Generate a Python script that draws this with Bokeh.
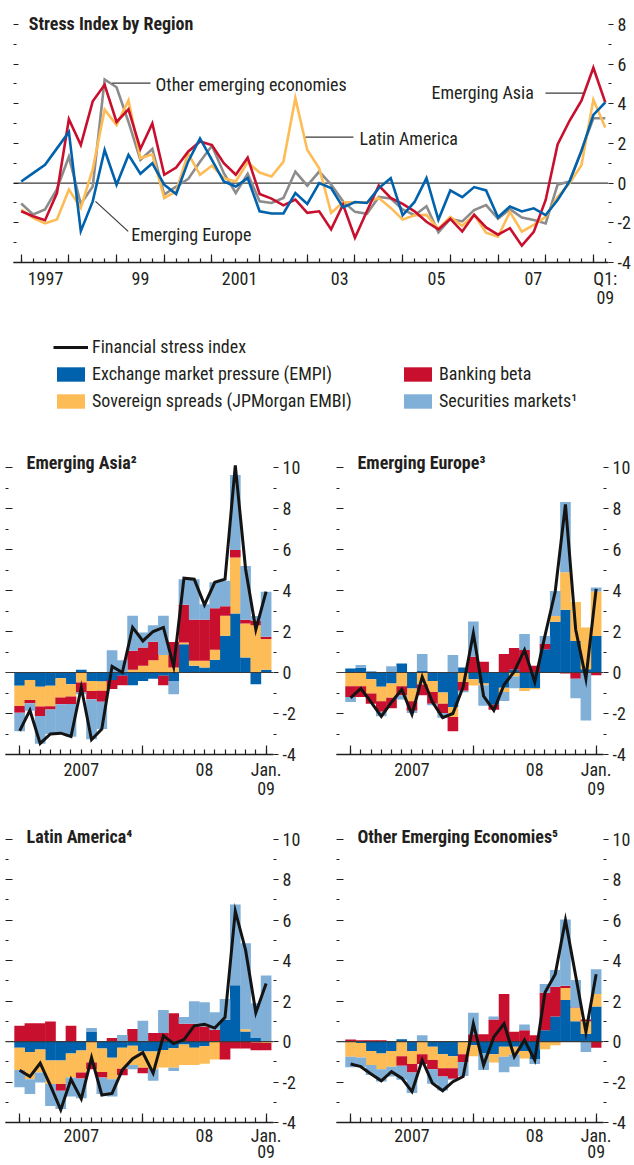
import numpy as np
from bokeh.plotting import figure
from bokeh.models import (Range1d, LinearAxis, FixedTicker, Span, Label, Legend,
                          LegendItem, ColumnDataSource)
from bokeh.layouts import column, row
from bokeh.embed import file_html
from bokeh.resources import INLINE

# ---------------- top chart: quarterly stress index by region ----------------
quarters = [1996.75 + 0.25 * i for i in range(50)]   # 1996Q4 ... 2009Q1

emerging_asia = [-1.42, -1.67, -1.87, -0.5, 3.22, 1.92, 4.12, 4.95, 3.08, 3.72,
                 1.72, 3.0, 0.42, 0.78, 1.58, 2.1, 1.92, 1.0, 0.42, 1.28,
                 -0.55, -0.78, -1.12, -0.83, -1.5, -1.42, -2.33, -1.08, -2.75, -1.42,
                 -0.12, -0.75, -1.05, -1.42, -1.95, -2.33, -1.8, -2.44, -1.6, -2.23,
                 -2.6, -2.27, -3.15, -2.46, -0.85, 1.95, 3.14, 4.15, 5.81, 4.07]
emerging_europe = [0.08, 0.5, 0.92, 1.75, 2.58, -2.42, -0.92, 1.67, -0.08, 1.42,
                   0.47, 1.0, -0.08, -0.55, 1.08, 2.25, 1.17, 0.08, -0.17, 0.25,
                   -1.42, -1.53, -1.53, -0.5, -1.05, 0.0, -0.25, -1.22, -0.95, -1.0,
                   -0.25, 0.25, -1.62, -0.95, 0.25, -1.85, -0.37, -0.71, -0.2, -0.37,
                   -1.72, -1.18, -1.43, -1.27, -1.61, -0.85, 0.08, 1.61, 3.44, 4.07]
latin_america = [-1.33, -1.75, -2.03, -1.83, -0.33, -1.25, 0.7, 3.7, 2.92, 4.17,
                 1.25, 1.45, -0.75, -0.42, 1.5, 0.42, 0.88, 0.25, 0.08, 1.05,
                 0.53, 0.33, 1.08, 4.28, 1.67, 0.75, -1.5, -0.97, -0.97, -0.97,
                 -0.75, -1.25, -1.83, -1.62, -1.6, -2.3, -1.7, -2.15, -1.6, -2.5,
                 -2.7, -1.45, -2.45, -2.1, -1.7, -0.7, 0.0, 0.9, 4.2, 2.8]
other_emerging = [-1.03, -1.58, -1.33, -0.3, 1.33, -1.05, -0.17, 5.22, 4.83, 3.08,
                  1.17, 1.72, -0.58, -0.17, 0.2, 1.08, 1.88, 0.5, -0.5, 0.47,
                  -0.92, -1.0, -0.75, 0.58, -0.13, 0.58, -0.08, -0.92, -1.45, -1.55,
                  -0.7, -0.78, -1.33, -1.62, -1.17, -2.48, -1.8, -1.93, -1.36, -1.11,
                  -1.79, -1.31, -1.74, -1.86, -2.03, -0.08, 0.08, 1.65, 3.27, 3.27]

top_year_marks = [1996.75 + k for k in range(13)]
top_tick_labels = {1997.26: "1997", 1999.25: "99", 2001.33: "2001",
                   2003.43: "03", 2005.46: "05", 2007.49: "07", 2009.0: "Q1:\n09"}
top_y_ticks = [-4, -2, 0, 2, 4, 6, 8]
top_y_minor = [-3, -1, 1, 3, 5, 7]

# ---------------- monthly panels ----------------
months = [2007 + m / 12 for m in range(25)]          # Jan 2007 ... Jan 2009
panel_year_marks = [2007.0, 2008.0, 2009.0]
panel_tick_labels = {2007.5: "2007", 2008.5: "08", 2009.0: "Jan.\n09"}
panel_y_ticks = [-4, -2, 0, 2, 4, 6, 8, 10]
panel_y_minor = [-3, -1, 1, 3, 5, 7, 9]

asia_fsi = [-2.85, -1.84, -3.46, -3.0, -2.96, -3.12, -0.73, -3.28, -2.76, 0.3, 0.0, 2.2,
            1.54, 2.0, 2.2, 0.3, 4.6, 4.55, 3.3, 4.4, 4.55, 10.1, 5.05, 2.1, 3.95]
asia_empi = [-0.65, -0.36, -0.7, -0.65, -0.28, -0.57, 0.13, -0.41, -0.44, -0.37, -0.16, -0.62,
             -0.41, -0.3, -0.16, -0.41, 1.38, 0.33, 0.24, 0.62, 1.79, 2.88, 0.73, -0.57, 0.13]
asia_sov = [-0.98, -0.98, -0.96, -1.0, -0.94, -0.6, -0.49, -0.49, -0.45, 0.0, 0.0, 0.13,
            0.33, 0.6, 0.85, 0.24, 0.08, 0.24, 0.33, 0.49, 0.98, 2.73, 1.66, 2.31, 1.5]
asia_bank = [-0.33, -0.16, -0.46, -0.16, -0.33, -0.37, -0.49, -0.41, -0.54, -0.44, -0.46, 0.93,
             0.89, 0.9, -0.46, 1.25, 1.84, 2.0, 2.0, 2.02, 0.46, 0.37, 0.18, 0.21, 0.11]
asia_sec = [-0.9, -0.37, -1.35, -1.19, -1.43, -1.6, -0.08, -1.95, -1.33, 1.09, 0.6, 1.71,
            0.73, 0.8, 1.92, -0.65, 1.25, 1.98, 0.76, 1.27, 1.25, 3.66, 2.63, 0.24, 2.2]

europe_fsi = [-1.24, -0.78, -1.45, -2.14, -1.45, -0.83, -2.04, -0.21, -1.44, -2.2, -2.0, -0.7,
              1.91, -1.15, -1.85, -0.6, 0.05, 1.1, -0.46, 1.8, 3.95, 8.2, 2.1, -0.3, 4.08]
europe_empi = [0.2, 0.23, -0.33, -0.7, -0.54, 0.44, -0.78, 0.07, -0.41, -0.98, -1.68, 0.25,
               -0.33, -0.54, -1.57, -0.74, 0.15, -0.75, -0.75, 1.14, 2.48, 3.06, 1.54, 0.16, 1.78]
europe_sov = [-0.67, -0.67, -0.7, -0.7, -0.69, -0.67, -0.62, -0.59, -0.54, -0.54, -0.49, -0.46,
              -0.3, -0.08, 0.0, -0.21, -0.2, -0.15, -0.07, 0.0, 0.28, 1.83, 1.9, 2.04, 2.17]
europe_bank = [-0.52, -0.52, -0.49, -0.52, -0.51, -0.44, -0.47, -0.52, -0.57, -0.46, -0.69, -0.43,
               0.77, 0.52, -0.25, 0.9, 1.05, 1.1, 0.33, 0.25, 0.0, -0.05, -0.3, 0.0, -0.13]
europe_sec = [-0.25, 0.13, 0.07, -0.21, 0.31, -0.21, -0.1, 0.83, -0.08, -0.23, 0.85, -0.07,
              1.72, -1.0, 0.0, -0.44, -0.57, 0.78, 0.0, 0.39, 1.21, 3.43, -0.95, -2.34, 0.2]

latam_fsi = [-1.42, -1.73, -1.07, -2.18, -3.37, -1.86, -2.83, -0.8, -2.64, -2.56, -1.4, -0.85,
             -0.55, -1.56, 0.29, -0.1, 0.1, 0.78, 0.86, 0.67, 1.2, 6.45, 4.53, 1.43, 2.87]
latam_empi = [-0.31, -0.52, -0.39, -0.93, -0.93, -0.59, -0.44, 0.47, -0.34, -0.8, -0.31, -0.2,
              -0.49, -0.49, -0.42, -0.33, -0.15, -0.31, -0.23, 0.0, 1.07, 2.78, 0.5, 0.18, 0.0]
latam_sov = [-1.09, -1.34, -1.14, -1.17, -1.17, -1.19, -1.09, -1.04, -1.16, -1.06, -1.03, -0.96,
             -0.8, -0.88, -0.86, -0.96, -1.01, -0.85, -0.86, -0.88, 0.0, 0.0, 0.11, -0.04, -0.07]
latam_bank = [0.78, 0.91, 0.91, 0.99, -0.33, 0.78, -0.29, -0.33, -0.28, 0.18, -0.33, 0.62,
              -0.28, 0.42, 0.42, 1.4, 0.88, 0.88, 0.75, 0.59, -0.88, -0.34, -0.34, -0.39, -0.36]
latam_sec = [-0.86, -0.73, -0.49, -1.09, -0.9, -0.93, -0.98, 0.2, -0.81, -0.85, 0.33, -0.21,
             1.03, -0.57, 1.14, -0.16, 0.33, 1.12, 1.2, 0.86, 1.03, 4.0, 4.25, 1.71, 3.27]

other_fsi = [-1.11, -1.24, -1.6, -1.94, -1.49, -1.81, -2.47, -0.92, -2.06, -2.43, -1.98, -1.73,
             0.88, -1.16, 0.23, 0.88, -0.75, 0.07, -0.92, 2.43, 3.33, 6.0, 3.25, 0.47, 3.33]
other_empi = [0.0, -0.07, -0.47, -0.59, -0.47, 0.11, -0.47, 0.0, -0.26, -0.62, -0.72, 0.0,
              -0.18, -0.59, -0.62, -0.26, -0.26, -0.46, -0.88, 0.56, 1.24, 2.06, 1.01, 0.39, 1.73]
other_sov = [-0.75, -0.72, -0.69, -0.78, -0.77, -0.72, -0.64, -0.62, -0.65, -0.7, -0.6, -0.62,
             -0.54, 0.0, -0.42, -0.49, -0.38, -0.38, 0.0, -0.38, -0.18, 0.59, 0.65, 0.62, 0.62]
other_bank = [0.1, 0.07, 0.07, 0.07, 0.0, -0.47, -0.42, -0.49, -0.46, -0.41, -0.52, -0.39,
              0.36, 0.36, 1.09, 2.35, 0.49, 0.56, 0.31, 1.85, 1.47, 0.11, 0.03, 0.08, -0.31]
other_sec = [-0.52, -0.46, -0.49, -0.6, -0.49, -0.7, -1.01, 0.31, -0.72, -0.69, -0.05, -0.69,
             1.06, -0.82, 0.15, -0.77, -0.6, 0.28, -0.23, 0.44, 0.83, 3.27, 1.36, -0.51, 1.23]

# ---------------- style ----------------
FONT = "Roboto Condensed, DejaVu Sans Condensed, Roboto"
TXT = "#231f20"
C_EMPI = "#0062ac"
C_SOV = "#fdbc56"
C_BANK = "#c8102e"
C_SEC = "#80b0d8"
C_OTHER = "#8c8c8c"
C_FSI = "#141414"
LEAD = "#3a3a3a"


def base_fig(width, height, xr, yr, left, right, top, bottom):
    p = figure(width=width, height=height, x_range=Range1d(*xr), y_range=Range1d(*yr),
               x_axis_type=None, y_axis_type=None, output_backend="svg",
               toolbar_location=None, min_border_left=left, min_border_right=right,
               min_border_top=top, min_border_bottom=bottom)
    p.outline_line_color = None
    return p


def add_y_axes(p, ticks, minors, in_major, in_minor, out_major, out_minor):
    left = LinearAxis(ticker=FixedTicker(ticks=ticks, minor_ticks=minors),
                      major_tick_in=in_major, major_tick_out=0, minor_tick_in=in_minor,
                      minor_tick_out=0, axis_line_color=None, major_tick_line_color=TXT,
                      minor_tick_line_color=TXT, major_label_text_font_size="0px",
                      major_label_standoff=0, major_label_overrides={t: "" for t in ticks})
    p.add_layout(left, "left")
    right = LinearAxis(ticker=FixedTicker(ticks=ticks, minor_ticks=minors),
                       major_tick_in=0, major_tick_out=out_major, minor_tick_in=0,
                       minor_tick_out=out_minor, axis_line_color=None,
                       major_tick_line_color=TXT, minor_tick_line_color=TXT,
                       major_label_standoff=4, major_label_text_font=FONT,
                       major_label_text_font_size="18px", major_label_text_color=TXT,
                       major_label_overrides={t: str(t) for t in ticks})
    p.add_layout(right, "right")


def add_x_axes(p, marks, minors, label_map, major_len, minor_len, standoff, line_height):
    a = LinearAxis(ticker=FixedTicker(ticks=marks, minor_ticks=minors),
                   major_tick_in=major_len, major_tick_out=0, minor_tick_in=minor_len,
                   minor_tick_out=0, axis_line_color=TXT, axis_line_width=1.3,
                   major_tick_line_color=TXT, minor_tick_line_color=TXT,
                   major_tick_line_width=1.2, minor_tick_line_width=1.2,
                   major_label_text_font_size="0px", major_label_standoff=0,
                   major_label_overrides={t: "" for t in marks})
    p.add_layout(a, "below")
    b = LinearAxis(ticker=FixedTicker(ticks=list(label_map.keys())),
                   major_tick_in=0, major_tick_out=0, minor_tick_in=0, minor_tick_out=0,
                   axis_line_color=None, major_tick_line_color=None, minor_tick_line_color=None,
                   major_label_standoff=standoff, major_label_text_font=FONT,
                   major_label_text_font_size="18px", major_label_text_color=TXT,
                   major_label_text_line_height=line_height, major_label_overrides=label_map)
    p.add_layout(b, "below")


# ---------------- top chart ----------------
top = base_fig(634, 318, (1996.5885, 2009.0675), (-4, 8.494), 13, 26, 14, 56)
top.add_layout(Span(location=0, dimension="width", line_color=LEAD, line_width=1.1,
                    level="underlay"))
for series, col in [(other_emerging, C_OTHER), (latin_america, C_SOV),
                    (emerging_asia, C_BANK), (emerging_europe, C_EMPI)]:
    top.line(quarters, series, line_color=col, line_width=2.6, line_join="miter")
add_y_axes(top, top_y_ticks, top_y_minor, 5, 3, 5, 3)
add_x_axes(top, top_year_marks, quarters, top_tick_labels, 8, 4, 5, 0.95)

top.add_layout(Label(x=1996.909, y=8.02, text="Stress Index by Region", text_font=FONT,
                     text_font_style="bold", text_font_size="18px", text_color=TXT,
                     text_baseline="middle"))
annotations = [("Other emerging economies", 1999.567, 4.99),
               ("Emerging Europe", 1999.057, -2.6),
               ("Latin America", 2003.845, 2.27),
               ("Emerging Asia", 2005.355, 4.57)]
for txt, ax, ay in annotations:
    top.add_layout(Label(x=ax, y=ay, text=txt, text_font=FONT, text_font_size="18px",
                         text_color=TXT, text_baseline="middle"))
leaders = [(1998.659, 5.04, 1999.462, 5.04),
           (1998.308, -0.92, 1998.994, -2.43),
           (2002.713, 2.32, 2003.719, 2.32),
           (2007.746, 4.53, 2008.543, 4.53)]
top.segment(x0=[l[0] for l in leaders], y0=[l[1] for l in leaders],
            x1=[l[2] for l in leaders], y1=[l[3] for l in leaders],
            line_color=LEAD, line_width=1.2)

# ---------------- legend ----------------
leg = base_fig(634, 134, (0, 1), (0, 1), 0, 0, 0, 0)
nan1 = [float("nan")]
r_fsi = leg.line(x=nan1, y=nan1, line_color=C_FSI, line_width=3)
r_empi = leg.vbar(x=nan1, top=nan1, width=1, fill_color=C_EMPI, line_color=None)
r_sov = leg.vbar(x=nan1, top=nan1, width=1, fill_color=C_SOV, line_color=None)
r_bank = leg.vbar(x=nan1, top=nan1, width=1, fill_color=C_BANK, line_color=None)
r_sec = leg.vbar(x=nan1, top=nan1, width=1, fill_color=C_SEC, line_color=None)


def make_legend(items, loc):
    lg = Legend(items=items, location=loc, glyph_width=35, glyph_height=18,
                label_standoff=4, spacing=6, padding=0, margin=0,
                border_line_color=None, background_fill_alpha=0,
                label_text_font=FONT, label_text_font_size="18px",
                label_text_color=TXT, label_height=18)
    leg.add_layout(lg)


make_legend([LegendItem(label="Financial stress index", renderers=[r_fsi]),
             LegendItem(label="Exchange market pressure (EMPI)", renderers=[r_empi]),
             LegendItem(label="Sovereign spreads (JPMorgan EMBI)", renderers=[r_sov])],
            (40, 41))
make_legend([LegendItem(label="Banking beta", renderers=[r_bank]),
             LegendItem(label="Securities markets\u00b9", renderers=[r_sec])],
            (387, 41))


# ---------------- panels ----------------
def make_panel(title, fsi, empi, sov, bank, sec, width, height, left, right, bottom,
               standoff, line_height, title_y):
    p = base_fig(width, height, (2006.88516, 2009.05996), (-4, -4 + 302 / 20.5),
                 left, right, 0, bottom)
    pos = np.zeros(len(months))
    neg = np.zeros(len(months))
    for vals, col in [(empi, C_EMPI), (sov, C_SOV), (bank, C_BANK), (sec, C_SEC)]:
        v = np.array(vals, dtype=float)
        bot = np.where(v >= 0, pos, neg + v)
        tp = np.where(v >= 0, pos + v, neg)
        pos = np.where(v >= 0, pos + v, pos)
        neg = np.where(v < 0, neg + v, neg)
        src = ColumnDataSource(dict(x=months, top=tp, bottom=bot))
        p.vbar(x="x", top="top", bottom="bottom", width=1.04 / 12, source=src,
               fill_color=col, line_color=None)
    p.add_layout(Span(location=0, dimension="width", line_color=LEAD, line_width=1.1))
    ln = p.line(months, fsi, line_color=C_FSI, line_width=3, line_join="miter")
    ln.level = "overlay"
    add_y_axes(p, panel_y_ticks, panel_y_minor, 7, 3, 5, 3)
    add_x_axes(p, panel_year_marks, months, panel_tick_labels, 9, 5, standoff, line_height)
    p.add_layout(Label(x=2007.056, y=title_y, text=title, text_font=FONT,
                       text_font_style="bold", text_font_size="18px", text_color=TXT,
                       text_baseline="middle"))
    return p


asia = make_panel("Emerging Asia\u00b2", asia_fsi, asia_empi, asia_sov, asia_bank, asia_sec,
                  336, 372, 5, 63, 70, 4, 0.95, 10.25)
europe = make_panel("Emerging Europe\u00b3", europe_fsi, europe_empi, europe_sov, europe_bank,
                    europe_sec, 298, 372, 0, 31, 70, 4, 0.95, 10.25)
latam = make_panel("Latin America\u2074", latam_fsi, latam_empi, latam_sov, latam_bank, latam_sec,
                   336, 341, 5, 63, 40, 2, 0.8, 10.15)
other = make_panel("Other Emerging Economies\u2075", other_fsi, other_empi, other_sov, other_bank,
                   other_sec, 298, 341, 0, 31, 40, 2, 0.8, 10.15)

layout = column(top, leg, row(asia, europe), row(latam, other))
open("out.html", "w").write(file_html(layout, INLINE))
